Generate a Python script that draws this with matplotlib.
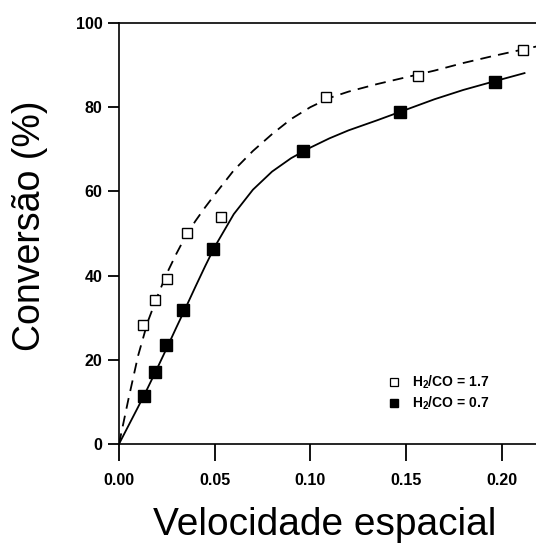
import matplotlib
matplotlib.use("Agg")
import matplotlib.pyplot as plt
from matplotlib.lines import Line2D

plt.rcParams['font.family'] = ['Liberation Sans', 'DejaVu Sans']
plt.rcParams['mathtext.default'] = 'regular'

# pontos experimentais (velocidade espacial, conversao %)
x_h17 = [0.0127, 0.0188, 0.0249, 0.0354, 0.0533, 0.1082, 0.1565, 0.2113]
y_h17 = [28.3, 34.2, 39.1, 50.1, 54.0, 82.4, 87.3, 93.7]
x_h07 = [0.0131, 0.0188, 0.0246, 0.0336, 0.0491, 0.0963, 0.1469, 0.1965]
y_h07 = [11.4, 17.0, 23.5, 31.9, 46.3, 69.5, 78.9, 86.1]

# curvas ajustadas
cx_h17 = [0, 0.005, 0.010, 0.015, 0.020, 0.025, 0.030, 0.035, 0.040, 0.045, 0.050,
          0.060, 0.070, 0.080, 0.090, 0.100, 0.110, 0.120, 0.135, 0.150, 0.165,
          0.180, 0.195, 0.210, 0.220]
cy_h17 = [0, 10.8, 21.0, 29.0, 35.0, 40.5, 45.2, 49.5, 53.0, 56.2, 59.2,
          65.0, 69.6, 73.6, 77.2, 80.0, 82.2, 83.7, 85.5, 87.1, 88.7,
          90.5, 92.1, 93.6, 94.6]
cx_h07 = [0, 0.005, 0.010, 0.015, 0.020, 0.025, 0.030, 0.035, 0.040, 0.045, 0.050,
          0.060, 0.070, 0.080, 0.090, 0.100, 0.110, 0.120, 0.135, 0.150, 0.165,
          0.180, 0.195, 0.212]
cy_h07 = [0, 4.4, 8.8, 13.3, 18.0, 22.8, 27.7, 32.5, 37.4, 42.2, 46.8,
          54.6, 60.4, 64.7, 67.9, 70.4, 72.6, 74.5, 76.9, 79.4, 81.9,
          84.1, 86.0, 88.1]

x_ticks = [0.00, 0.05, 0.10, 0.15, 0.20]
x_ticklabels = ['0.00', '0.05', '0.10', '0.15', '0.20']
y_ticks = [0, 20, 40, 60, 80, 100]
labels = ['H$_2$/CO = 1.7', 'H$_2$/CO = 0.7']

fig = plt.figure(figsize=(5.36, 5.46), dpi=100)
ax = fig.add_axes([119 / 536, 1 - 444 / 546, 417 / 536, (444 - 23) / 546])

ax.plot(cx_h17, cy_h17, color='black', lw=1.3, dashes=(6, 4), zorder=2)
ax.plot(cx_h07, cy_h07, color='black', lw=1.3, zorder=2)
ax.plot(x_h17, y_h17, linestyle='none', marker='s', ms=7.5, mfc='white',
        mec='black', mew=1.0, zorder=3)
ax.plot(x_h07, y_h07, linestyle='none', marker='s', ms=9, mfc='black',
        mec='black', zorder=3)

ax.set_xlim(0, 0.218)
ax.set_ylim(0, 100)
ax.set_xticks(x_ticks)
ax.set_xticklabels(x_ticklabels)
ax.set_yticks(y_ticks)

ax.spines['right'].set_visible(False)
for s in ['left', 'bottom', 'top']:
    ax.spines[s].set_linewidth(1.2)
ax.tick_params(axis='x', direction='out', length=12, width=1.3, pad=9,
               labelsize=11.5)
ax.tick_params(axis='y', direction='out', length=8, width=1.3, pad=4,
               labelsize=11.5)
for lab in ax.get_xticklabels() + ax.get_yticklabels():
    lab.set_fontweight('bold')

fig.text(30 / 536, 1 - 226 / 546, 'Conversão (%)', rotation=90,
         ha='center', va='center', fontsize=27)
fig.text(325 / 536, 1 - 535 / 546, 'Velocidade espacial', ha='center',
         va='baseline', fontsize=28)

handles = [
    Line2D([], [], linestyle='none', marker='s', ms=5.5, mfc='white', mec='black', mew=0.9),
    Line2D([], [], linestyle='none', marker='s', ms=5.5, mfc='black', mec='black'),
]
leg = ax.legend(handles, labels, loc='center left', bbox_to_anchor=(388 / 536, 1 - 393 / 546),
                bbox_transform=fig.transFigure, frameon=False, handlelength=0.8,
                handletextpad=0.9, labelspacing=0.3, borderpad=0, borderaxespad=0,
                prop={'size': 10, 'weight': 'bold'})

fig.savefig('out.png', dpi=100)
